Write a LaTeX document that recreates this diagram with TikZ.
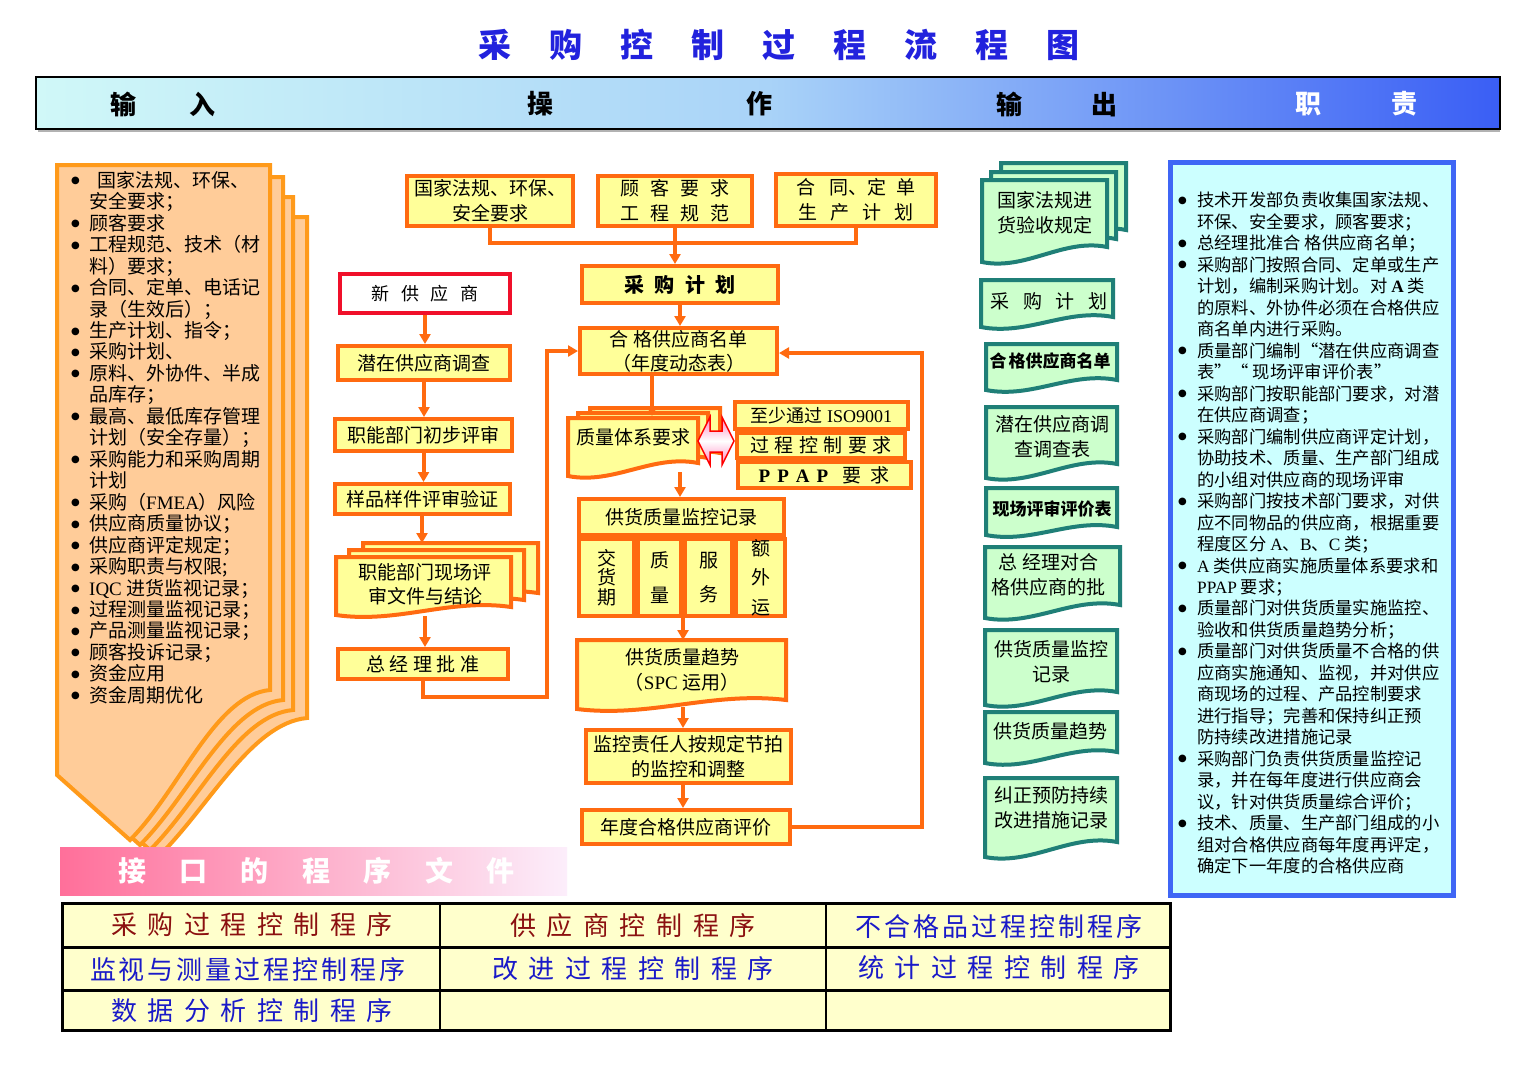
\documentclass[tikz,border=0pt]{standalone}
\usepackage{fontspec}
\setmainfont{Noto Sans CJK SC}
\newfontfamily\lat{Liberation Serif}
\newfontfamily\dvs{DejaVu Sans}
\usetikzlibrary{arrows.meta}
\definecolor{obord}{HTML}{FF6A10}
\definecolor{oyel}{HTML}{FFFF99}
\definecolor{pfill}{HTML}{FFCC99}
\definecolor{pbord}{HTML}{FF9A1A}
\definecolor{gfill}{HTML}{CCFFCC}
\definecolor{gbord}{HTML}{1F7F77}
\definecolor{cfill}{HTML}{CCFFFF}
\definecolor{bbord}{HTML}{3F66F5}
\definecolor{nred}{HTML}{F0102A}
\definecolor{tblue}{HTML}{2222DD}
\definecolor{dred}{HTML}{8B1010}
\definecolor{dblue}{HTML}{1A1AC8}
\definecolor{tfill}{HTML}{FFFFCC}
\definecolor{hl}{HTML}{D0F8F8}
\definecolor{hm}{HTML}{A9D3F8}
\definecolor{hr}{HTML}{3A5EF5}
\definecolor{pkl}{HTML}{FF6F9A}
\definecolor{pkr}{HTML}{FCEEFB}
\definecolor{pka}{HTML}{FF86C0}
\newcommand{\fs}[2]{\fontsize{#1pt}{#2pt}\selectfont}
\makeatletter
\newcommand{\spc}[2]{\begingroup\let\spc@first\relax\@tfor\spc@c:=#2\do{\ifx\spc@first\relax\let\spc@first\@empty\else\hspace{#1}\fi\spc@c}\endgroup}
\makeatother
\newcommand{\bigdot}{\raisebox{3.5pt}{{\dvs\fs{10}{12}●}}}
\newcommand{\bu}{\makebox[18pt][l]{\bigdot}}
\newcommand{\nb}{\makebox[18pt][l]{}}
\newcommand{\bur}{\makebox[19pt][l]{\bigdot}}
\newcommand{\nbr}{\makebox[19pt][l]{}}
\newcommand{\docshape}[6]{\path[#1] (#2,#3) -- (#4,#3) -- (#4,#6) .. controls ({#4-0.35*(#4-#2)},{#6-9}) and ({#2+0.35*(#4-#2)},{#5+9}) .. (#2,#5) -- cycle;}
\newcommand{\peachlayer}[9]{\path[#1] (#2,#3) -- (#4,#3) -- (#4,#5) .. controls ({#4-55},{#5+5}) and ({#6+50},{#7-50}) .. (#6,#7) -- (#8,#9) -- cycle;}
\tikzset{
 obox/.style={draw=obord, fill=oyel, line width=4pt, inner sep=0pt, align=center, font=\fs{19}{25}},
 oline/.style={draw=obord, line width=4pt},
 oarr/.style={draw=obord, line width=4pt, -{Triangle[length=10pt,width=11pt]}},
 gdoc/.style={draw=gbord, fill=gfill, line width=4pt},
 pdoc/.style={draw=pbord, fill=pfill, line width=4pt},
 odoc/.style={draw=obord, fill=oyel, line width=4pt},
 txt/.style={inner sep=0pt, align=center, font=\fs{19}{25}},
 hdr/.style={inner sep=0pt, font=\bfseries\fs{26}{30}},
 tcell/.style={inner sep=0pt, font=\fs{26}{30}},
}
\begin{document}
\begin{tikzpicture}[x=1pt,y=-1pt]
\useasboundingbox (0,0) rectangle (1534,1080);
\fill[white] (0,0) rectangle (1534,1080);

% title
\node[font=\bfseries\fs{33}{36}, text=tblue, inner sep=0pt] (title) at (779,45) {\spc{38pt}{采购控制过程流程图}};

% header bar
\draw[gray!60, line width=2pt] (38,131) -- (1500,131);
\shade[left color=hl, right color=hr, middle color=hm] (36,77) rectangle (1500,129);
\draw[black, line width=1.5pt] (36,77) rectangle (1500,129);
\node[hdr] (hin) at (163,104) {输\hspace{54pt}入};
\node[hdr] (hop) at (650,104) {操\hspace{193pt}作};
\node[hdr] (hout) at (1057,104) {输\hspace{69pt}出};
\node[hdr, text=white] (hre) at (1356,104) {职\hspace{70pt}责};

% left input stack
\peachlayer{pdoc}{87}{217}{307}{718}{160}{855}{87}{790}
\peachlayer{pdoc}{77}{197}{293}{710}{150}{850}{77}{785}
\peachlayer{pdoc}{67}{177}{283}{700}{140}{845}{67}{780}
\peachlayer{pdoc}{57}{165}{270}{690}{130}{840}{57}{775}
\node[anchor=north west, inner sep=0pt, align=left, font=\fs{19}{21.46}] (inlist) at (71,171) {%
\bu\hspace{8pt}国家法规、环保、\\
\nb 安全要求；\\
\bu 顾客要求\\
\bu 工程规范、技术（材\\
\nb 料）要求；\\
\bu 合同、定单、电话记\\
\nb 录（生效后）；\\
\bu 生产计划、指令；\\
\bu 采购计划、\\
\bu 原料、外协件、半成\\
\nb 品库存；\\
\bu 最高、最低库存管理\\
\nb 计划（安全存量）；\\
\bu 采购能力和采购周期\\
\nb 计划\\
\bu 采购（{\lat FMEA}）风险\\
\bu 供应商质量协议；\\
\bu 供应商评定规定；\\
\bu 采购职责与权限;\\
\bu {\lat IQC} 进货监视记录；\\
\bu 过程测量监视记录；\\
\bu 产品测量监视记录；\\
\bu 顾客投诉记录；\\
\bu 资金应用\\
\bu 资金周期优化};

% middle top inputs
\node[obox, minimum width=166pt, minimum height=50pt] (B1) at (490,201) {国家法规、环保、\\安全要求};
\node[obox, minimum width=154pt, minimum height=50pt] (B2) at (675,201) {\spc{11pt}{顾客要求}\\\spc{11pt}{工程规范}};
\node[obox, minimum width=160pt, minimum height=52pt] (B3) at (856,200) {合\hspace{14pt}同、定\hspace{10pt}单\\\spc{13pt}{生产计划}};
\node[obox, minimum width=196pt, minimum height=37pt, font=\bfseries\fs{20}{24}] (P) at (680,284.5) {\spc{10.5pt}{采购计划}};
\node[obox, minimum width=197pt, minimum height=46pt, font=\fs{19}{24}] (Q) at (678.5,351) {合\hspace{6pt}格供应商名单\\（年度动态表）};

% quality system stack
\docshape{odoc,shift={(22,-10)}}{568}{418}{698}{476}{463}
\docshape{odoc,shift={(10,-5)}}{568}{418}{698}{476}{463}
\docshape{odoc}{568}{418}{698}{476}{463}
\node[txt] (QS) at (633,437) {质量体系要求};
\node[obox, minimum width=173pt, minimum height=27pt, font=\fs{18}{22}] (ISO) at (821.5,415.5) {至少通过 {\lat ISO9001}};
\node[obox, minimum width=168pt, minimum height=25pt, font=\fs{19}{22}] (PCR) at (821,445.5) {\spc{5.5pt}{过程控制要求}};
\node[obox, minimum width=173pt, minimum height=26pt, font=\fs{19}{22}] (PPAP) at (824,475) {{\lat\bfseries P\hspace{7pt}P\hspace{7pt}A\hspace{7pt}P}\hspace{14pt}要\hspace{9pt}求};
\shade[top color=pka, bottom color=pka, middle color=white, draw=red, line width=1.5pt]
 (698,441) -- (710,417) -- (710,431) -- (722,431) -- (722,417) -- (734,441) -- (722,465) -- (722,452) -- (710,452) -- (710,465) -- cycle;

\node[obox, minimum width=205pt, minimum height=36pt] (SQ) at (681.5,517) {供货质量监控记录};
\node[obox, minimum width=55pt, minimum height=77pt, font=\fs{19}{19.5}] (c1) at (606.5,577.5) {交\\货\\期};
\node[obox, minimum width=43pt, minimum height=77pt, font=\fs{19}{35}] (c2) at (659.5,577.5) {质\\量};
\node[obox, minimum width=47pt, minimum height=77pt, font=\fs{19}{34}] (c3) at (708.5,577.5) {服\\务};
\node[obox, minimum width=49pt, minimum height=77pt, font=\fs{19}{29.5}] (c4) at (760.5,577.5) {额\\外\\运};

\docshape{odoc}{577}{640}{786}{709}{700}
\node[txt] (T) at (682,670) {供货质量趋势\\（{\lat SPC} 运用）};
\node[obox, minimum width=205pt, minimum height=53pt] (M) at (688.5,756.5) {监控责任人按规定节拍\\的监控和调整};
\node[obox, minimum width=208pt, minimum height=34pt] (A) at (686,827) {年度合格供应商评价};

% left flow
\node[obox, draw=nred, fill=white, minimum width=170pt, minimum height=39pt, font=\fs{18}{22}] (NS) at (425,293.5) {\spc{11.5pt}{新供应商}};
\node[obox, minimum width=172pt, minimum height=34pt] (PS) at (424,363) {潜在供应商调查};
\node[obox, minimum width=177pt, minimum height=32pt] (FD) at (423.5,435) {职能部门初步评审};
\node[obox, minimum width=175pt, minimum height=30pt] (SP) at (422.5,499) {样品样件评审验证};
\docshape{odoc,shift={(27,-14)}}{336}{557}{511}{615}{607}
\docshape{odoc,shift={(13,-7)}}{336}{557}{511}{615}{607}
\docshape{odoc}{336}{557}{511}{615}{607}
\node[txt, font=\fs{19}{24}] (FDS) at (425,584) {职能部门现场评\\审文件与结论};
\node[obox, minimum width=170pt, minimum height=30pt] (GM) at (423,664) {\spc{4.5pt}{总经理批准}};

% connectors
\coordinate (hy) at (0,243);
\draw[oline] (B1.south) -- (B1.south |- hy) -- (B3.south |- hy) -- (B3.south);
\draw[oarr] (B2.south) -- (B2.south |- P.north);
\draw[oarr] (P.south) -- (P.south |- Q.north);
\coordinate (qsTop) at (652,416);
\draw[oarr] (Q.south -| qsTop) -- (qsTop);
\coordinate (qsBot) at (680,472);
\draw[oarr] (qsBot) -- (qsBot |- SQ.north);
\coordinate (tTop) at (684,640);
\draw[oarr] (c2.south east) -- (c2.south east |- tTop);
\coordinate (tBot) at (683,707);
\draw[oarr] (tBot) -- (tBot |- M.north);
\draw[oarr] (M.south -| tBot) -- (A.north -| tBot);
\coordinate (fb) at (922,353);
\draw[oarr] (A.east) -| (fb) -- (Q.east |- fb);
\draw[oarr] (NS.south) -- (NS.south |- PS.north);
\draw[oarr] (PS.south) -- (PS.south |- FD.north);
\draw[oarr] (FD.south) -- (FD.south |- SP.north);
\coordinate (fdsTop) at (422,543);
\draw[oarr] (SP.south -| fdsTop) -- (fdsTop);
\coordinate (fdsBot) at (425,616);
\draw[oarr] (fdsBot) -- (fdsBot |- GM.north);
\coordinate (lb) at (547,697);
\draw[oarr] (GM.south) |- (lb) |- (Q.west);

% outputs (green)
\docshape{gdoc,shift={(19,-17)}}{982}{180}{1107}{262}{247}
\docshape{gdoc,shift={(9,-8)}}{982}{180}{1107}{262}{247}
\docshape{gdoc}{982}{180}{1107}{262}{247}
\node[txt] (G1) at (1045,213) {国家法规进\\货验收规定};
\docshape{gdoc}{981}{280}{1113}{327}{317}
\node[txt] (G2) at (1049,301) {\spc{13.5pt}{采购计划}};
\docshape{gdoc}{986}{344}{1117}{390}{380}
\node[txt, font=\bfseries\fs{17}{20}] (G3) at (1050,361) {合\hspace{2pt}格供应商名单};
\docshape{gdoc}{986}{407}{1117}{478}{464}
\node[txt] (G4) at (1052,437) {潜在供应商调\\查调查表};
\docshape{gdoc}{986}{488}{1117}{535}{527}
\node[txt, font=\bfseries\fs{17}{20}] (G5) at (1052,509) {现场评审评价表};
\docshape{gdoc}{985}{547}{1120}{618}{605}
\node[txt] (G6) at (1048,575) {总\hspace{5pt}经理对合\\格供应商的批};
\docshape{gdoc}{985}{630}{1117}{705}{692}
\node[txt] (G7) at (1051,662) {供货质量监控\\记录};
\docshape{gdoc}{985}{712}{1117}{763}{752}
\node[txt] (G8) at (1050,731) {供货质量趋势};
\docshape{gdoc}{985}{778}{1117}{857}{842}
\node[txt] (G9) at (1051,808) {纠正预防持续\\改进措施记录};

% responsibilities
\draw[draw=bbord, fill=cfill, line width=5pt] (1170,162) rectangle (1453,895);
\node[anchor=north west, inner sep=0pt, align=left, font=\fs{17.3}{21.48}] (resp) at (1178,192) {%
\bur 技术开发部负责收集国家法规、\\
\nbr 环保、安全要求，顾客要求；\\
\bur 总经理批准合 格供应商名单；\\
\bur 采购部门按照合同、定单或生产\\
\nbr 计划，编制采购计划。对 {\lat\bfseries A} 类\\
\nbr 的原料、外协件必须在合格供应\\
\nbr 商名单内进行采购。\\
\bur 质量部门编制“潜在供应商调查\\
\nbr 表”“ 现场评审评价表”\\
\bur 采购部门按职能部门要求，对潜\\
\nbr 在供应商调查；\\
\bur 采购部门编制供应商评定计划，\\
\nbr 协助技术、质量、生产部门组成\\
\nbr 的小组对供应商的现场评审\\
\bur 采购部门按技术部门要求，对供\\
\nbr 应不同物品的供应商，根据重要\\
\nbr 程度区分 {\lat A}、{\lat B}、{\lat C} 类；\\
\bur {\lat A} 类供应商实施质量体系要求和\\
\nbr {\lat PPAP} 要求；\\
\bur 质量部门对供货质量实施监控、\\
\nbr 验收和供货质量趋势分析；\\
\bur 质量部门对供货质量不合格的供\\
\nbr 应商实施通知、监视，并对供应\\
\nbr 商现场的过程、产品控制要求\\
\nbr 进行指导；完善和保持纠正预\\
\nbr 防持续改进措施记录\\
\bur 采购部门负责供货质量监控记\\
\nbr 录，并在每年度进行供应商会\\
\nbr 议，针对供货质量综合评价；\\
\bur 技术、质量、生产部门组成的小\\
\nbr 组对合格供应商每年度再评定，\\
\nbr 确定下一年度的合格供应商};

% interface banner
\shade[left color=pkl, right color=pkr] (60,847) rectangle (567,895);
\node[inner sep=0pt, text=white, font=\bfseries\fs{28}{32}] (ban) at (316.5,871) {\spc{33.5pt}{接口的程序文件}};

% table
\fill[tfill] (62,903) rectangle (1170,1030);
\draw[black, line width=3pt] (62,947) -- (1170,947);
\draw[black, line width=3pt] (62,990) -- (1170,990);
\draw[black, line width=1.5pt] (440,903) -- (440,1030);
\draw[black, line width=1.5pt] (826,903) -- (826,1030);
\draw[black, line width=3pt] (62,903) rectangle (1170,1030);
\node[tcell, text=dred] (t11) at (252,925) {\spc{10.5pt}{采购过程控制程序}};
\node[tcell, text=dred] (t12) at (633,926) {\spc{10.5pt}{供应商控制程序}};
\node[tcell, text=dblue] (t13) at (999,927) {\spc{3pt}{不合格品过程控制程序}};
\node[tcell, text=dblue] (t21) at (248,970) {\spc{3pt}{监视与测量过程控制程序}};
\node[tcell, text=dblue] (t22) at (633,969) {\spc{10.5pt}{改进过程控制程序}};
\node[tcell, text=dblue] (t23) at (999,968) {\spc{10.5pt}{统计过程控制程序}};
\node[tcell, text=dblue] (t31) at (252,1011) {\spc{10.5pt}{数据分析控制程序}};
\end{tikzpicture}
\end{document}
